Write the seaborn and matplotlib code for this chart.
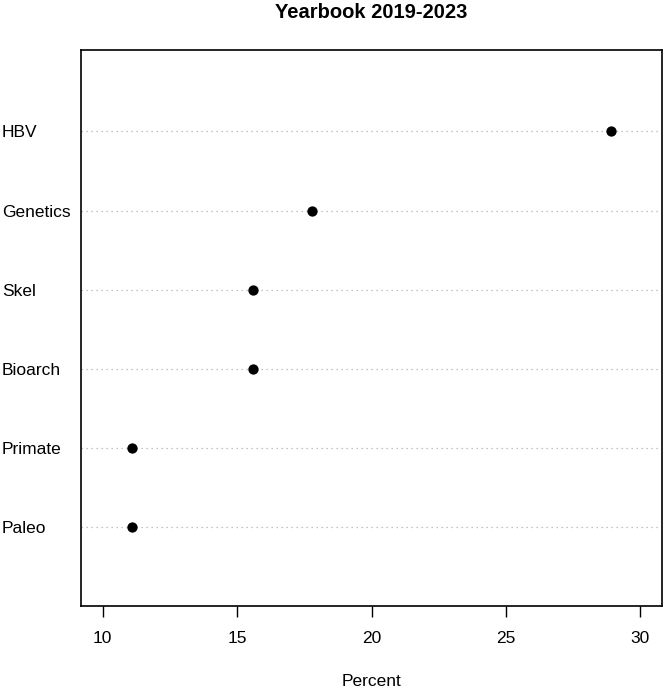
import numpy as np
import pandas as pd
import seaborn as sns
import matplotlib.pyplot as plt

# share of yearbook articles by topic
topics = ['Paleo', 'Primate', 'Bioarch', 'Skel', 'Genetics', 'HBV']
percent = [11.1, 11.1, 15.6, 15.6, 17.8, 28.9]
xticks = [10, 15, 20, 25, 30]

df = pd.DataFrame({'topic': topics, 'percent': percent, 'pos': np.arange(1, len(topics) + 1)})

sns.set_style('white')
plt.rcParams['font.family'] = ['Liberation Sans', 'DejaVu Sans']
plt.rcParams['text.color'] = 'black'
plt.rcParams['axes.labelcolor'] = 'black'
plt.rcParams['xtick.color'] = 'black'
plt.rcParams['ytick.color'] = 'black'

fig = plt.figure(figsize=(6.64, 6.92), dpi=100)
ax = fig.add_axes([81/664, 1 - 606/692, (662 - 81)/664, (606 - 50)/692])

for p in df['pos']:
    ax.axhline(p, color='#b0b0b0', lw=0.9, ls=(0, (1, 3)), zorder=1)

sns.scatterplot(data=df, x='percent', y='pos', color='black', s=55,
                edgecolor='black', linewidth=0, ax=ax, zorder=3)

ax.set_xlim(9.2, 30.8)
ax.set_ylim(0, 7.03)
ax.set_xticks(xticks)
ax.set_xticklabels([str(t) for t in xticks], fontsize=12.5)
ax.set_yticks(df['pos'])
ax.set_yticklabels(df['topic'], fontsize=12.5)
for lab in ax.get_yticklabels():
    lab.set_horizontalalignment('left')
ax.tick_params(axis='y', length=0, pad=79 * 0.72)
ax.tick_params(axis='x', length=8, width=1, direction='out', pad=10, bottom=True, color='black')

for sp in ax.spines.values():
    sp.set_visible(True)
    sp.set_color('black')
    sp.set_linewidth(1.2)

ax.set_xlabel('Percent', fontsize=12.5, labelpad=20)
ax.set_ylabel('')
fig.text(371.5/664, 1 - 13/692, 'Yearbook 2019-2023', ha='center', va='center',
         fontsize=14.5, fontweight='bold')

fig.savefig('out.png', dpi=100)
